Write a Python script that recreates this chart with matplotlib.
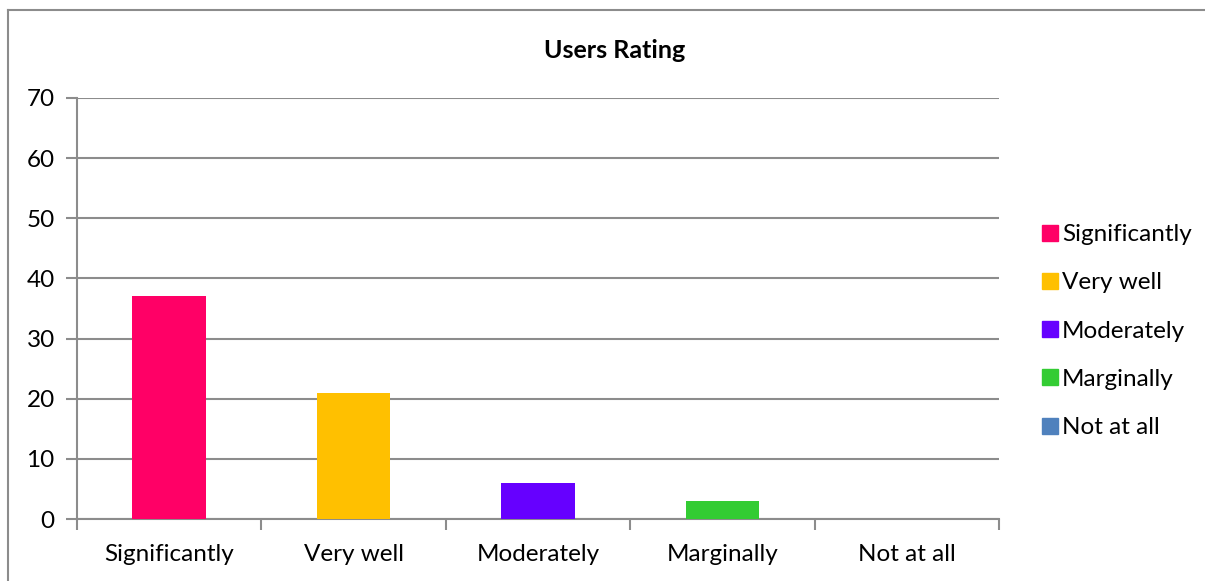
import matplotlib.pyplot as plt
from matplotlib.lines import Line2D

# Data
categories = ["Significantly", "Very well", "Moderately", "Marginally", "Not at all"]
ratings = [37, 21, 6, 3, 0]
colors = ["#FF0066", "#FFC000", "#6600FF", "#33CC33", "#4F81BD"]
y_ticks = [0, 10, 20, 30, 40, 50, 60, 70]

plt.rcParams["font.family"] = ["Lato", "DejaVu Sans"]
grey = "#8C8C8C"
fs = 17.5

fig = plt.figure(figsize=(12.05, 5.81), dpi=100)
W, H = 1205, 581

# chart border (only top and left edges are inside the image)
fig.add_artist(Line2D([8 / W, 8 / W], [0, 1 - 10 / H], transform=fig.transFigure,
                      color=grey, linewidth=1.5))
fig.add_artist(Line2D([8 / W, 1.02], [1 - 10 / H, 1 - 10 / H], transform=fig.transFigure,
                      color=grey, linewidth=1.5))

ax = fig.add_axes([77 / W, 1 - 519 / H, (999 - 77) / W, (519 - 98) / H])
x = range(len(categories))
ax.bar(x, ratings, width=0.4, color=colors, zorder=3)

ax.set_xlim(-0.5, len(categories) - 0.5)
ax.set_ylim(0, 70)
ax.set_yticks(y_ticks)
ax.set_yticklabels([str(v) for v in y_ticks], fontsize=fs)
ax.set_xticks([i - 0.5 for i in range(len(categories) + 1)])
ax.set_xticklabels([])
ax.set_xticks(list(x), minor=True)
ax.set_xticklabels(categories, minor=True, fontsize=fs)
ax.tick_params(axis="x", which="minor", length=0, pad=18)
ax.tick_params(axis="x", which="major", length=8, width=1.5, color=grey)
ax.tick_params(axis="y", length=8, width=1.5, color=grey, pad=8)

ax.grid(axis="y", color=grey, linewidth=1.5, zorder=0)
for side in ["top", "right"]:
    ax.spines[side].set_visible(False)
for side in ["left", "bottom"]:
    ax.spines[side].set_color(grey)
    ax.spines[side].set_linewidth(1.5)

fig.text(615 / W, 1 - 50 / H, "Users Rating", fontsize=18, fontweight="bold",
         ha="center", va="center")

handles = [Line2D([], [], marker="s", linestyle="none", markersize=11,
                  markerfacecolor=c, markeredgecolor=c) for c in colors]
fig.legend(handles, categories, loc="upper left",
           bbox_to_anchor=(1028 / W, 1 - 212 / H), frameon=False,
           fontsize=fs, handlelength=0.8, handletextpad=0.1,
           labelspacing=1.12, borderpad=0)

fig.savefig("out.png", dpi=100)
